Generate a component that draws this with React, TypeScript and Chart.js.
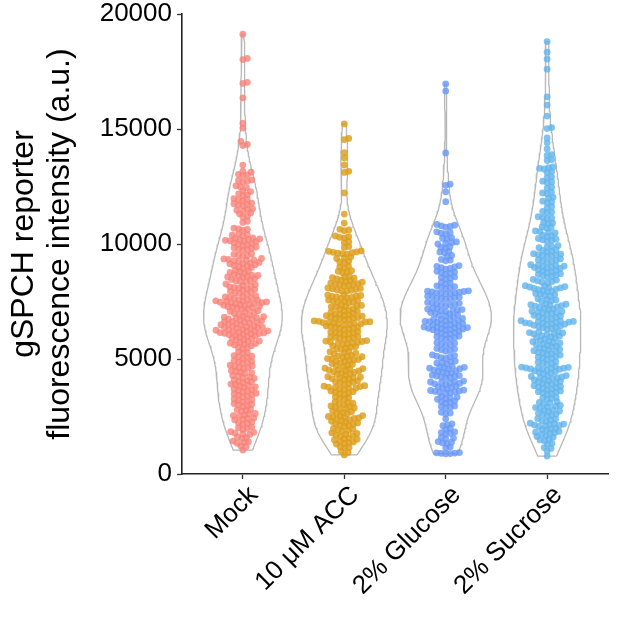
import { useEffect, useRef } from "react";
import { Chart, registerables } from "chart.js";
Chart.register(...registerables);

const categories = ["Mock", "10 μM ACC", "2% Glucose", "2% Sucrose"];
const yTicks = [0, 5000, 10000, 15000, 20000];

const mockValues = [
  1040, 1180, 1220, 1340, 1370, 1400, 1430, 1550, 1580, 1610, 1720, 1750, 1780, 1810, 1840,
  1950, 1980, 2010, 2040, 2170, 2200, 2230, 2260, 2350, 2380, 2410, 2440,
  2510, 2540, 2570, 2600, 2630, 2730, 2760, 2790, 2820, 2940, 2970, 3000, 3030, 3060,
  3140, 3170, 3200, 3230, 3260, 3360, 3390, 3420, 3450, 3480, 3510, 3570, 3600, 3630, 3660, 3690,
  3760, 3790, 3820, 3850, 3880, 3910, 3970, 4000, 4030, 4060, 4090, 4160, 4190, 4220, 4250, 4280,
  4370, 4400, 4430, 4460, 4490, 4580, 4610, 4640, 4670, 4700, 4730, 4810, 4840, 4870, 4900, 4930,
  5030, 5060, 5090, 5120, 5150, 5250, 5280, 5310, 5450, 5480, 5510, 5580, 5610, 5640, 5670,
  5690, 5720, 5750, 5780, 5810, 5840, 5880, 5910, 5940, 5970, 6000, 6030,
  6060, 6075, 6090, 6105, 6120, 6135, 6150, 6165, 6180, 6195, 6210, 6225,
  6250, 6270, 6290, 6310, 6330, 6350, 6370, 6390, 6410, 6430, 6450, 6470, 6490, 6510,
  6540, 6560, 6580, 6600, 6620, 6640, 6660, 6700, 6720, 6740, 6760, 6780, 6800, 6820, 6840, 6860,
  6920, 6950, 6980, 7010, 7040, 7070, 7100, 7170, 7190, 7210, 7230, 7250, 7270, 7290,
  7320, 7340, 7360, 7380, 7400, 7420, 7440, 7455, 7470, 7485, 7500, 7515, 7530, 7545, 7560, 7575,
  7640, 7660, 7680, 7700, 7720, 7740, 7820, 7850, 7880, 7910, 7940, 7990, 8020, 8050, 8080,
  8110, 8140, 8170, 8200, 8230, 8260, 8340, 8370, 8400, 8430, 8460, 8490,
  8550, 8570, 8590, 8610, 8630, 8650, 8670, 8740, 8770, 8800, 8830, 8860,
  8950, 8980, 9010, 9040, 9070, 9100, 9140, 9160, 9180, 9200, 9250, 9270, 9290, 9310, 9330, 9350, 9370,
  9460, 9490, 9520, 9550, 9580, 9720, 9750, 9780, 9810, 9840, 9870, 9930, 9960, 9990, 10020, 10050,
  10100, 10120, 10140, 10160, 10180, 10200, 10220, 10240, 10260, 10350, 10380, 10410, 10440,
  10600, 10630, 10660, 10690, 10940, 10990, 11170, 11210, 11310, 11350, 11440, 11470, 11500, 11530,
  11660, 11690, 11720, 11750, 11780, 11880, 11910, 11940, 11970, 12100, 12140, 12180, 12280, 12320,
  12450, 12490, 12530, 12700, 12730, 12760, 12790, 12970, 13000, 13030, 13120, 13170, 13430,
  14280, 14330, 14460, 15040, 15250, 16350, 16980, 17030, 18020, 18070, 19120,
];

const accValues = [
  830, 940, 980, 1120, 1150, 1180, 1300, 1330, 1360, 1390, 1420, 1480, 1510, 1540, 1570,
  1640, 1670, 1700, 1730, 1760, 1790, 1860, 1890, 1920, 1950, 1980,
  2070, 2100, 2130, 2160, 2190, 2220, 2260, 2290, 2320, 2350, 2380, 2420, 2440, 2460, 2480, 2500, 2520, 2540,
  2620, 2650, 2680, 2710, 2740, 2810, 2840, 2870, 2900, 2930, 2960, 3020, 3050, 3080, 3110, 3140,
  3260, 3290, 3320, 3350, 3460, 3490, 3520, 3550, 3580, 3610,
  3680, 3700, 3720, 3740, 3760, 3780, 3800, 3820, 3840, 3900, 3930, 3960, 3990, 4020, 4050,
  4110, 4130, 4150, 4170, 4190, 4210, 4230, 4300, 4330, 4360, 4390, 4420, 4450,
  4480, 4500, 4520, 4540, 4560, 4580, 4600, 4680, 4710, 4740, 4770, 4800, 4830,
  4900, 4920, 4940, 4960, 4980, 5000, 5020, 5080, 5100, 5120, 5140, 5160, 5220, 5250, 5280, 5310, 5340,
  5420, 5450, 5480, 5510, 5540, 5570, 5640, 5660, 5680, 5700, 5720, 5740, 5760, 5780, 5800,
  5860, 5880, 5900, 5920, 5940, 5960, 5980, 6070, 6090, 6110, 6130, 6150, 6170, 6190,
  6290, 6310, 6330, 6350, 6370, 6390, 6410, 6430,
  6490, 6505, 6520, 6535, 6550, 6565, 6580, 6595, 6610, 6625, 6640, 6655,
  6700, 6720, 6740, 6760, 6780, 6800, 6820, 6860, 6880, 6900, 6920, 6940, 6960, 6980,
  7040, 7070, 7100, 7130, 7160, 7190, 7250, 7270, 7290, 7310, 7330, 7350,
  7440, 7460, 7480, 7500, 7520, 7540, 7560, 7640, 7660, 7680, 7700, 7720, 7740, 7760, 7780, 7800,
  7950, 7970, 7990, 8010, 8030, 8050, 8070, 8090, 8180, 8200, 8220, 8240, 8260, 8280, 8300,
  8340, 8370, 8400, 8430, 8480, 8510, 8540, 8570, 8600, 8750, 8780, 8810, 8840,
  8960, 9000, 9040, 9190, 9220, 9250, 9370, 9400, 9430,
  9560, 9580, 9600, 9620, 9640, 9660, 9680, 9700, 9850, 9890, 10060, 10100,
  10260, 10290, 10320, 10350, 10580, 10610, 10640, 10910, 11300, 12220, 13110, 13160,
  13430, 13740, 13970, 14540, 14590, 15220,
];

const glucoseValues = [
  880, 890, 900, 910, 920, 930, 1130, 1170, 1320, 1350, 1380, 1410, 1530, 1560, 1590,
  1740, 1770, 1800, 1830, 1940, 1980, 2100, 2140, 2180, 2400, 2620, 2650, 2680,
  2870, 2900, 2930, 2960, 3080, 3110, 3140, 3170, 3250, 3280, 3310, 3340, 3370,
  3510, 3530, 3550, 3570, 3590, 3610, 3630, 3650, 3700, 3730, 3760, 3790, 3820,
  3900, 3920, 3940, 3960, 3980, 4000, 4020, 4040, 4180, 4200, 4220, 4240, 4260, 4280, 4300,
  4370, 4400, 4430, 4460, 4490, 4520, 4560, 4580, 4600, 4620, 4640, 4660, 4680,
  4790, 4820, 4850, 4880, 4910, 5030, 5060, 5090, 5120, 5150, 5180, 5340, 5370, 5400, 5430, 5460,
  5590, 5620, 5650, 5680, 5710, 5850, 5880, 5910, 5940, 5970, 6000,
  6060, 6090, 6120, 6150, 6180, 6210, 6260, 6275, 6290, 6305, 6320, 6335, 6350, 6365, 6380, 6395,
  6440, 6460, 6480, 6500, 6520, 6540, 6560, 6600, 6620, 6640, 6660, 6680, 6700, 6720, 6740, 6760,
  6840, 6870, 6900, 6930, 6960, 6990, 7020, 7070, 7090, 7110, 7130, 7150, 7170, 7190, 7210,
  7320, 7340, 7360, 7380, 7400, 7420, 7440, 7460, 7590, 7610, 7630, 7650, 7670, 7690, 7710, 7730,
  7830, 7845, 7860, 7875, 7890, 7905, 7920, 7935, 7950, 7965, 8060, 8090, 8120, 8150, 8180,
  8270, 8300, 8330, 8480, 8510, 8540, 8570, 8690, 8720, 8750, 8780, 8810,
  8910, 8940, 8970, 9000, 9030, 9060, 9270, 9300, 9330, 9460, 9500, 9620, 9650, 9680,
  9820, 9850, 9880, 10000, 10030, 10060, 10090, 10220, 10250, 10280, 10440, 10470, 10500, 10530,
  10730, 10760, 10790, 10820, 10850, 11840, 12270, 12550, 12600, 13960, 16650, 16960,
];

const sucroseValues = [
  780, 1000, 1110, 1150, 1290, 1330, 1450, 1480, 1510, 1600, 1630, 1660, 1730, 1760, 1790, 1820, 1850,
  1900, 1930, 1960, 1990, 2070, 2090, 2110, 2130, 2150, 2170, 2190, 2210, 2290, 2320, 2350, 2380, 2410,
  2520, 2550, 2580, 2610, 2640, 2710, 2740, 2770, 2800, 2860, 2890, 2920, 2950, 2980,
  3050, 3080, 3110, 3140, 3250, 3280, 3310, 3340, 3460, 3490, 3520, 3550, 3580, 3610,
  3660, 3690, 3720, 3750, 3780, 3810, 3840, 3870, 3900, 3930, 3960, 4000, 4030, 4060, 4090, 4120,
  4160, 4180, 4200, 4220, 4240, 4260, 4280, 4360, 4390, 4420, 4450, 4480, 4510,
  4550, 4560, 4570, 4590, 4600, 4610, 4620, 4640, 4650, 4670, 4770, 4800, 4830, 4860, 4890,
  4990, 5020, 5050, 5080, 5110, 5170, 5200, 5230, 5260, 5290, 5330, 5360, 5390, 5420, 5450, 5480,
  5530, 5560, 5590, 5620, 5650, 5690, 5720, 5750, 5780, 5810, 5870, 5900, 5930, 5960, 5990, 6020,
  6070, 6090, 6110, 6130, 6150, 6170, 6190, 6290, 6320, 6350, 6380, 6410, 6440, 6470,
  6500, 6515, 6530, 6545, 6560, 6575, 6590, 6605, 6620, 6635, 6650, 6665,
  6720, 6750, 6780, 6810, 6840, 6870, 6900, 6960, 6980, 7000, 7020, 7040, 7060, 7080,
  7150, 7180, 7210, 7240, 7270, 7300, 7320, 7340, 7360, 7380, 7400, 7500, 7530, 7560, 7590, 7620,
  7730, 7760, 7790, 7820, 7850, 7920, 7950, 7980, 8010, 8040, 8070, 8090, 8110, 8130, 8150, 8170, 8190,
  8310, 8340, 8370, 8400, 8430, 8460, 8560, 8590, 8620, 8650, 8680, 8710, 8760, 8790, 8820, 8850, 8880,
  8940, 8960, 8980, 9000, 9020, 9040, 9060, 9080, 9100, 9200, 9230, 9260, 9290, 9320, 9350,
  9460, 9480, 9500, 9520, 9540, 9560, 9580, 9660, 9690, 9720, 9750, 9840, 9870, 9900, 9930,
  10120, 10150, 10180, 10210, 10240, 10320, 10350, 10380, 10480, 10510, 10540, 10570, 10690, 10720, 10750,
  10880, 10910, 10940, 11100, 11130, 11160, 11190, 11360, 11390, 11420, 11580, 11620, 11800, 11830, 11860,
  11990, 12030, 12190, 12220, 12250, 12430, 12470, 12670, 12700, 12730, 12880, 12920, 13110, 13150,
  13260, 13290, 13320, 13350, 13630, 13670, 13850, 13890, 14130, 14400, 14610, 15020, 15060,
  15560, 16040, 16400, 17600, 18040, 18340, 18800,
];

const groupValues = [mockValues, accValues, glucoseValues, sucroseValues];
const pointColors = [
  "rgba(248,128,118,0.78)",
  "rgba(221,157,24,0.82)",
  "rgba(104,152,248,0.8)",
  "rgba(98,180,236,0.8)",
];

// layout constants (pixel geometry of the plot area)
const AREA_LEFT = 182;
const AREA_RIGHT = 608;
const AREA_TOP = 14;
const AREA_BOTTOM = 474;
const X_MIN = 0.4;
const X_MAX = 4.6;
const Y_MAX = 20000;
const PX_PER_X = (AREA_RIGHT - AREA_LEFT) / (X_MAX - X_MIN);
const PX_PER_Y = (AREA_BOTTOM - AREA_TOP) / Y_MAX;
const FONT = "'Liberation Sans', Arial, Helvetica, sans-serif";

function swarmOffsets(values: number[], d: number): number[] {
  const idx = values.map((_, i) => i).sort((a, b) => values[a] - values[b]);
  const placed: { x: number; y: number }[] = [];
  const out = new Array(values.length).fill(0);
  for (const i of idx) {
    const y = values[i] * PX_PER_Y;
    const near = placed.filter((p) => Math.abs(p.y - y) < d);
    const cands = [0];
    for (const p of near) {
      const dx = Math.sqrt(d * d - (p.y - y) ** 2);
      cands.push(p.x + dx, p.x - dx);
    }
    cands.sort((a, b) => Math.abs(a) - Math.abs(b));
    let chosen = 0;
    for (const c of cands) {
      if (near.every((p) => (p.x - c) ** 2 + (p.y - y) ** 2 >= d * d - 0.01)) {
        chosen = c;
        break;
      }
    }
    placed.push({ x: chosen, y });
    out[i] = chosen / PX_PER_X;
  }
  return out;
}

function bwNrd0(v: number[]): number {
  const n = v.length;
  const s = [...v].sort((a, b) => a - b);
  const mean = s.reduce((a, b) => a + b, 0) / n;
  const sd = Math.sqrt(s.reduce((a, b) => a + (b - mean) ** 2, 0) / (n - 1));
  const q = (p: number) => {
    const h = (n - 1) * p;
    const lo = Math.floor(h);
    return s[lo] + (h - lo) * ((s[lo + 1] ?? s[lo]) - s[lo]);
  };
  const iqr = q(0.75) - q(0.25);
  const lo = Math.min(sd, iqr / 1.34);
  return 0.9 * lo * Math.pow(n, -0.2);
}

function densityCurve(v: number[], steps: number) {
  const bw = bwNrd0(v);
  const min = Math.min(...v);
  const max = Math.max(...v);
  const pts: { y: number; d: number }[] = [];
  for (let k = 0; k <= steps; k++) {
    const y = min + ((max - min) * k) / steps;
    let sum = 0;
    for (const x of v) sum += Math.exp(-0.5 * ((y - x) / bw) ** 2);
    pts.push({ y, d: sum / (v.length * bw * Math.sqrt(2 * Math.PI)) });
  }
  return pts;
}

export default function App() {
  const ref = useRef<HTMLCanvasElement | null>(null);
  useEffect(() => {
    if (!ref.current) return;
    const curves = groupValues.map((v) => densityCurve(v, 160));
    const maxD = Math.max(...curves.flatMap((c) => c.map((p) => p.d)));
    const violinSets = curves.map((c, gi) => {
      const cx = gi + 1;
      const right = c.map((p) => ({ x: cx + (p.d / maxD) * 0.45, y: p.y }));
      const left = [...c].reverse().map((p) => ({ x: cx - (p.d / maxD) * 0.45, y: p.y }));
      return {
        type: "scatter" as const,
        data: [...right, ...left, right[0]],
        showLine: true,
        borderColor: "#b8b8b8",
        borderWidth: 1.3,
        pointRadius: 0,
        fill: false,
        tension: 0,
        order: 2,
      };
    });
    const pointSets = groupValues.map((v, gi) => {
      const offs = swarmOffsets(v, 4.6);
      return {
        type: "scatter" as const,
        data: v.map((y, i) => ({ x: gi + 1 + offs[i], y })),
        pointRadius: 3.4,
        pointBackgroundColor: pointColors[gi],
        pointBorderColor: pointColors[gi],
        pointBorderWidth: 0,
        showLine: false,
        order: 1,
      };
    });
    const chart = new Chart(ref.current, {
      type: "scatter",
      data: { datasets: [...violinSets, ...pointSets] as any },
      options: {
        animation: false,
        responsive: false,
        devicePixelRatio: 1,
        layout: { padding: { top: AREA_TOP, right: 617 - AREA_RIGHT, left: 0, bottom: 0 } },
        plugins: { legend: { display: false }, tooltip: { enabled: false } },
        scales: {
          x: {
            type: "linear",
            min: X_MIN,
            max: X_MAX,
            afterFit: (s: any) => {
              s.height = 621 - AREA_BOTTOM;
            },
            afterBuildTicks: (s: any) => {
              s.ticks = categories.map((_, i) => ({ value: i + 1 }));
            },
            border: { display: true, color: "#222", width: 1.6 },
            grid: { drawOnChartArea: false, drawTicks: true, tickLength: 5, tickColor: "#333", tickWidth: 1.3 },
            ticks: {
              autoSkip: false,
              maxRotation: 45,
              minRotation: 45,
              padding: 1,
              labelOffset: 11,
              color: "#000",
              font: { family: FONT, size: 26 },
              callback: (v: any) => categories[Math.round(Number(v)) - 1] ?? "",
            },
          },
          y: {
            type: "linear",
            min: 0,
            max: Y_MAX,
            afterFit: (s: any) => {
              s.width = AREA_LEFT;
            },
            afterBuildTicks: (s: any) => {
              s.ticks = yTicks.map((v) => ({ value: v }));
            },
            border: { display: true, color: "#222", width: 1.6 },
            grid: { drawOnChartArea: false, drawTicks: true, tickLength: 5, tickColor: "#333", tickWidth: 1.3 },
            ticks: {
              padding: 5,
              color: "#000",
              font: { family: FONT, size: 26, lineHeight: 0.6 },
              callback: (v: any) => String(v),
            },
            title: {
              display: true,
              text: ["gSPCH reporter", "fluorescence intensity (a.u.)"],
              color: "#000",
              font: { family: FONT, size: 32, lineHeight: 1.1 },
              padding: { top: 7, bottom: 0 },
            },
          },
        },
      },
    });
    return () => chart.destroy();
  }, []);
  return (
    <div style={{ position: "absolute", left: 0, top: 0, width: 617, height: 621, background: "#fff" }}>
      <canvas ref={ref} width={617} height={621} style={{ width: 617, height: 621, display: "block" }} />
    </div>
  );
}
